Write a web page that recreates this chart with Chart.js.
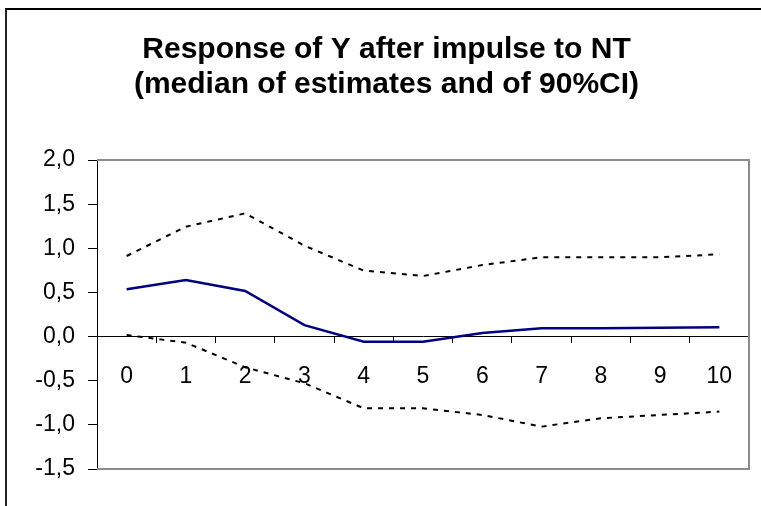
<!DOCTYPE html>
<html>
<head>
<meta charset="utf-8">
<script src="https://cdn.jsdelivr.net/npm/chart.js@4/dist/chart.umd.min.js"></script>
<style>
  body { margin: 0; background: #fff; overflow: hidden; }
  #frame { position: absolute; left: 5px; top: 8px; width: 800px; height: 600px;
           border-left: 2px solid #222; border-top: 2px solid #000; }
  #wrap { position: absolute; left: 0; top: 0; width: 761px; height: 506px; }
</style>
</head>
<body>
<div id="frame"></div>
<div id="wrap"><canvas id="myChart"></canvas></div>
<script>
const periods = ["0", "1", "2", "3", "4", "5", "6", "7", "8", "9", "10"];
const medianValues = [0.535, 0.64, 0.516, 0.13, -0.058, -0.058, 0.04, 0.094, 0.095, 0.10, 0.105];
const upperValues = [0.913, 1.245, 1.396, 1.03, 0.747, 0.686, 0.81, 0.898, 0.898, 0.898, 0.932];
const lowerValues = [0.018, -0.069, -0.348, -0.529, -0.812, -0.812, -0.888, -1.02, -0.925, -0.888, -0.85];
const titleLines = ["Response of Y after impulse to NT", "(median of estimates and of 90%CI)"];

// grey frame on top, right and bottom of the plot area
const plotFrame = {
  id: "plotFrame",
  beforeDatasetsDraw(chart) {
    const {ctx, chartArea: a} = chart;
    ctx.save();
    ctx.strokeStyle = "#8c8c8c";
    ctx.lineWidth = 2;
    ctx.beginPath();
    ctx.moveTo(a.left, a.top);
    ctx.lineTo(a.right, a.top);
    ctx.lineTo(a.right, a.bottom);
    ctx.lineTo(a.left, a.bottom);
    ctx.stroke();
    ctx.restore();
  }
};

const font = {family: "'Liberation Sans', Arial, sans-serif", size: 23};

new Chart("myChart", {
  type: "line",
  data: {
    labels: periods,
    datasets: [
      {data: medianValues, borderColor: "#000080", borderWidth: 2.5, pointRadius: 0, tension: 0},
      {data: upperValues, borderColor: "#000", borderWidth: 2, borderDash: [5, 6], pointRadius: 0, tension: 0},
      {data: lowerValues, borderColor: "#000", borderWidth: 2, borderDash: [5, 6], pointRadius: 0, tension: 0}
    ]
  },
  options: {
    responsive: true,
    maintainAspectRatio: false,
    animation: false,
    layout: {padding: {left: 24, right: 12, top: 0, bottom: 37}},
    plugins: {
      legend: {display: false},
      tooltip: {enabled: false},
      title: {
        display: true,
        text: titleLines,
        color: "#000",
        font: {family: font.family, size: 30, weight: "bold", lineHeight: 1.167},
        padding: {top: 32, bottom: 58}
      }
    },
    scales: {
      x: {
        type: "category",
        position: {y: 0},
        offset: true,
        afterFit(scale) { scale.height = 0; },
        grid: {offset: true, drawOnChartArea: false, tickLength: 6, color: "#000", lineWidth: 1},
        border: {color: "#000", width: 1},
        ticks: {color: "#000", font: font, padding: 20, maxRotation: 0, autoSkip: false}
      },
      y: {
        min: -1.5,
        max: 2,
        afterFit(scale) { scale.width = 73; },
        grid: {drawOnChartArea: false, tickLength: 9, color: "#000", lineWidth: 1},
        border: {color: "#000", width: 1},
        ticks: {
          stepSize: 0.5,
          color: "#000",
          font: font,
          padding: 13,
          callback: v => v.toFixed(1).replace(".", ",")
        }
      }
    }
  },
  plugins: [plotFrame]
});
</script>
</body>
</html>
